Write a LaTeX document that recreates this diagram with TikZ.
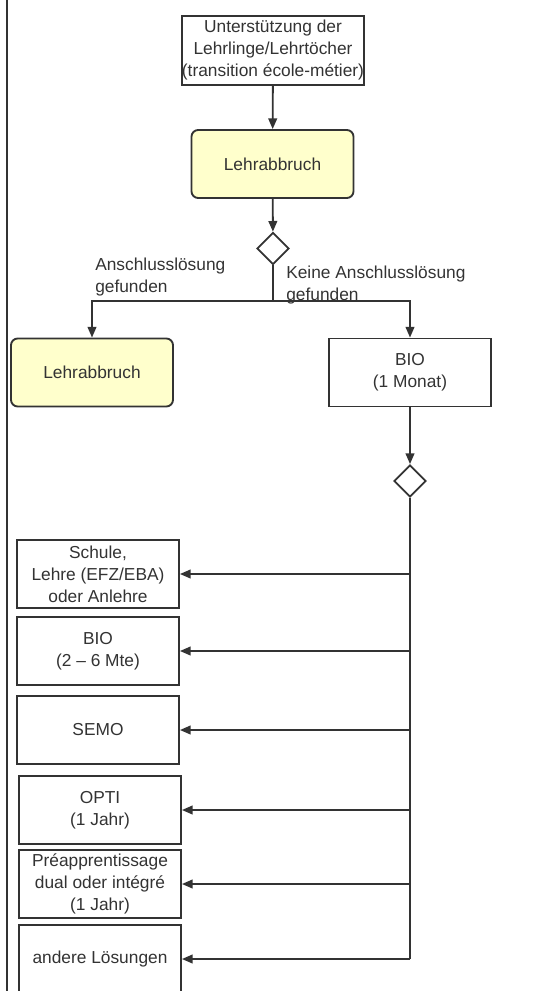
\documentclass[tikz,border=0pt]{standalone}
\usepackage{fontspec}
\setmainfont{Liberation Sans}
\usetikzlibrary{arrows.meta,shapes.geometric}
\definecolor{dunkel}{HTML}{333333}
\definecolor{gelb}{HTML}{FFFFCC}

\begin{document}
\begin{tikzpicture}[x=0.75pt,y=-0.75pt,
	every node/.style={text=dunkel,font=\fontsize{13}{16.5}\selectfont,align=center,inner sep=0pt},
	kasten/.style={draw=dunkel,line width=1.4pt,fill=white,minimum width=121.5pt,minimum height=51pt},
	abbruch/.style={kasten,fill=gelb,rounded corners=5pt},
	entscheid/.style={draw=dunkel,line width=1.4pt,fill=white,diamond,minimum size=24pt},
	strich/.style={draw=dunkel,line width=1.4pt},
	pfeil/.style={strich,-{Triangle[length=8pt,width=6.5pt]}}]
				\clip (0,0) rectangle (542,991);
				\draw[dunkel,line width=1.6pt] (7,0) -- (7,991);
				
				\path (273,50.5) node[kasten,minimum width=135pt,minimum height=51.75pt] (start) {Unterstützung der\\Lehrlinge/Lehrtöcher\\(transition école-métier)};
				\path (272.5,164) node[abbruch] (abbruch1) {Lehrabbruch};
				\path (273,248.5) node[entscheid] (frage1) {};
				\coordinate (gabel) at (273,301);
				\coordinate (gabell) at (92,301);
				\coordinate (gabelr) at (410,301);
				\path (92,372.5) node[abbruch] (abbruch2) {Lehrabbruch};
				\path (410,372.5) node[kasten] (bio1) {BIO\\(1 Monat)};
				\path (410,481) node[entscheid] (frage2) {};
				
				\path (95,277) node[anchor=west,align=left] (ja) {Anschlusslösung\\gefunden};
				\path (286,285) node[anchor=west,align=left] (nein) {Keine Anschlusslösung\\gefunden};
				
				\path (98,574) node[kasten] (schule) {Schule,\\Lehre (EFZ/EBA)\\oder Anlehre};
				\path (98,651) node[kasten] (bio2) {BIO\\(2 -- 6 Mte)};
				\path (98,730) node[kasten] (semo) {SEMO};
				\path (100,810) node[kasten] (opti) {OPTI\\(1 Jahr)};
				\path (100,884) node[kasten] (preapp) {Préapprentissage\\dual oder intégré\\(1 Jahr)};
				\path (100,959) node[kasten] (andere) {andere Lösungen};
				
				\coordinate (ast1) at (410,574);
				\coordinate (ast2) at (410,651);
				\coordinate (ast3) at (410,730);
				\coordinate (ast4) at (410,810);
				\coordinate (ast5) at (410,884);
				\coordinate (ast6) at (410,959);
				
				\draw[pfeil] (start) -- (abbruch1);
				\draw[pfeil] (abbruch1) -- (frage1);
				\draw[strich] (frage1.south) -- (gabel);
				\draw[pfeil] (gabel) -- (gabell) -- (abbruch2.north);
				\draw[pfeil] (gabel) -- (gabelr) -- (bio1.north);
				\draw[pfeil] (bio1) -- (frage2);
				\draw[strich] (frage2.south) -- (ast6);
				\draw[pfeil] (ast1) -- (schule.east);
				\draw[pfeil] (ast2) -- (bio2.east);
				\draw[pfeil] (ast3) -- (semo.east);
				\draw[pfeil] (ast4) -- (opti.east);
				\draw[pfeil] (ast5) -- (preapp.east);
				\draw[pfeil] (ast6) -- (andere.east);
\end{tikzpicture}
\end{document}
